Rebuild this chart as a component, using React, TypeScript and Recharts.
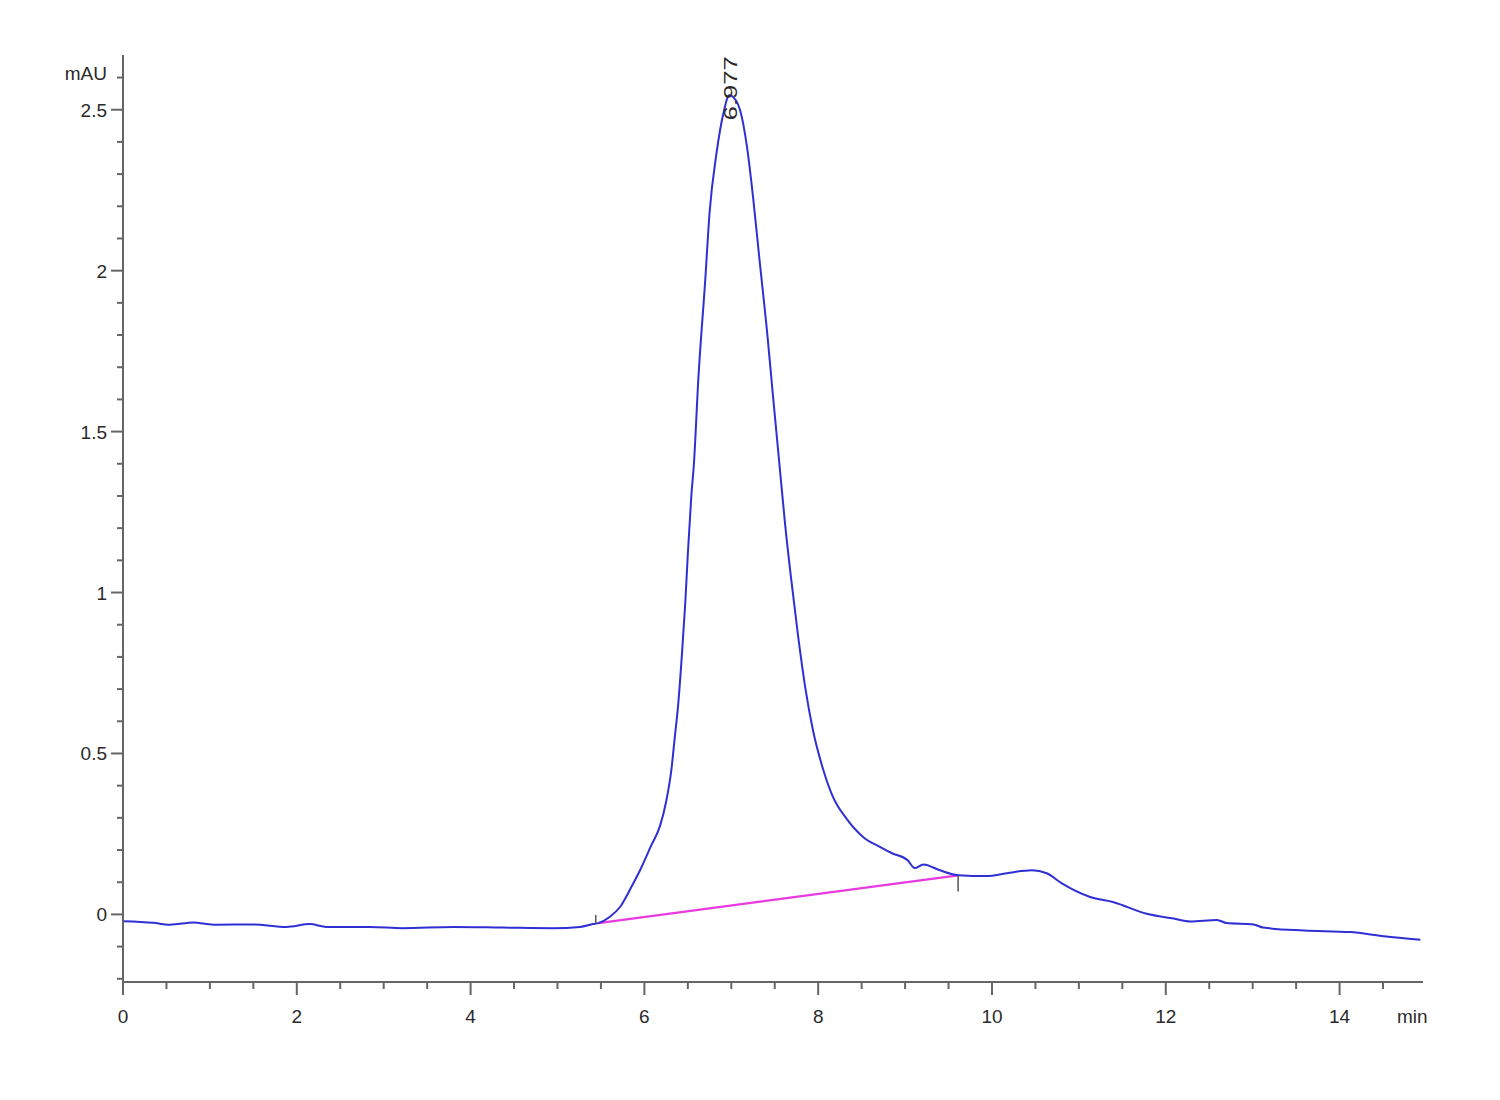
import React from 'react';
import { LineChart, Line, XAxis, YAxis, ReferenceDot, ReferenceLine, Label } from 'recharts';

const times = [
  0.0, 0.35, 0.54, 0.81, 1.04, 1.5, 1.88, 2.15, 2.34, 2.84, 3.22, 3.8, 4.37, 4.95, 5.26, 5.41, 5.47,
  5.6, 5.72, 5.85, 5.95, 6.08, 6.18, 6.25, 6.31, 6.35, 6.39, 6.43, 6.47, 6.5, 6.54, 6.57, 6.62, 6.7,
  6.75, 6.83, 6.91, 6.977, 7.05, 7.1, 7.18, 7.25, 7.33, 7.41, 7.48, 7.55, 7.62, 7.69, 7.77, 7.85,
  7.94, 8.06, 8.17, 8.33, 8.52, 8.71, 8.85, 9.03, 9.11, 9.21, 9.4, 9.61, 9.94, 10.17, 10.46, 10.63,
  10.8, 11.13, 11.4, 11.78, 12.09, 12.28, 12.59, 12.7, 13.01, 13.12, 13.59, 14.12, 14.51, 14.93,
];
const signal = [
  -0.021, -0.026, -0.032, -0.025, -0.032, -0.031, -0.039, -0.03, -0.039, -0.039, -0.043, -0.039,
  -0.041, -0.043, -0.039, -0.03, -0.027, -0.008, 0.023, 0.085, 0.137, 0.215, 0.275, 0.35, 0.448,
  0.551, 0.655, 0.8, 0.966, 1.12, 1.3, 1.4, 1.66, 1.97, 2.18, 2.365, 2.49, 2.545, 2.53, 2.5, 2.386,
  2.23, 2.02, 1.816, 1.61, 1.41, 1.21, 1.04, 0.862, 0.707, 0.572, 0.448, 0.365, 0.296, 0.24, 0.21,
  0.19, 0.168, 0.144, 0.155, 0.137, 0.122, 0.119, 0.128, 0.137, 0.128, 0.097, 0.054, 0.038, 0.002,
  -0.013, -0.022, -0.017, -0.027, -0.031, -0.041, -0.05, -0.055, -0.068, -0.079,
];

const baselineTimes = [5.47, 9.61];
const baselineValues = [-0.027, 0.121];

const peakTime = 6.977;
const peakValue = 2.545;
const peakLabel = '6.977';

const xTicks = [
  0, 0.5, 1, 1.5, 2, 2.5, 3, 3.5, 4, 4.5, 5, 5.5, 6, 6.5, 7, 7.5, 8, 8.5, 9, 9.5, 10, 10.5, 11,
  11.5, 12, 12.5, 13, 13.5, 14, 14.5,
];
const yTicks = [
  -0.2, -0.1, 0, 0.1, 0.2, 0.3, 0.4, 0.5, 0.6, 0.7, 0.8, 0.9, 1, 1.1, 1.2, 1.3, 1.4, 1.5, 1.6, 1.7,
  1.8, 1.9, 2, 2.1, 2.2, 2.3, 2.4, 2.5, 2.6,
];

const xUnit = 'min';
const yUnit = 'mAU';

const data = times.map((t, i) => ({ t, v: signal[i] }));
const baselineData = baselineTimes.map((t, i) => ({ t, v: baselineValues[i] }));

const FONT = '"Liberation Sans", Arial, sans-serif';
const AXIS = '#666';
const TEXT = '#2a2a2a';

const isMult = (v: number, m: number) => Math.abs(v / m - Math.round(v / m)) < 1e-6;

const XTick = (props: any) => {
  const { x, y, payload } = props;
  const v = payload.value;
  const major = isMult(v, 2);
  return (
    <g>
      <line x1={x} x2={x} y1={y} y2={y + (major ? 13 : 7)} stroke={AXIS} strokeWidth={2} />
      {major && (
        <text x={x} y={y + 41} textAnchor="middle" fontSize={19} fill={TEXT} fontFamily={FONT}>
          {String(v)}
        </text>
      )}
    </g>
  );
};

const YTick = (props: any) => {
  const { x, y, payload } = props;
  const v = payload.value;
  const major = isMult(v, 0.5);
  return (
    <g>
      <line x1={x - (major ? 12 : 6)} x2={x} y1={y} y2={y} stroke={AXIS} strokeWidth={2} />
      {major && (
        <text x={x - 16} y={y + 7} textAnchor="end" fontSize={19} fill={TEXT} fontFamily={FONT}>
          {String(v)}
        </text>
      )}
    </g>
  );
};

const YUnitLabel = (props: any) => {
  const vb = props.viewBox || {};
  return (
    <text x={vb.x + vb.width - 16} y={vb.y + 25} textAnchor="end" fontSize={19} fill={TEXT} fontFamily={FONT}>
      {yUnit}
    </text>
  );
};

const XUnitLabel = (props: any) => {
  const vb = props.viewBox || {};
  return (
    <text x={vb.x + vb.width - 26} y={vb.y + 41} textAnchor="start" fontSize={19} fill={TEXT} fontFamily={FONT}>
      {xUnit}
    </text>
  );
};

const PeakLabel = (props: any) => {
  const { cx, cy } = props;
  return (
    <text
      x={0}
      y={0}
      transform={`translate(${cx + 7.5},${cy + 25}) rotate(-90)`}
      fontSize={19}
      fill={TEXT}
      fontFamily={FONT}
      textLength={64}
      lengthAdjust="spacingAndGlyphs"
    >
      {peakLabel}
    </text>
  );
};

export default function App() {
  return (
    <div style={{ width: 1480, height: 1080 }}>
      <LineChart width={1480} height={1080} data={data} margin={{ top: 47, right: 65, left: 0, bottom: 0 }}>
        <XAxis
          dataKey="t"
          type="number"
          domain={[0, 14.96]}
          allowDataOverflow
          ticks={xTicks}
          interval={0}
          tick={<XTick />}
          tickLine={false}
          tickSize={0}
          tickMargin={0}
          height={106}
          axisLine={{ stroke: AXIS, strokeWidth: 2 }}
        >
          <Label content={<XUnitLabel />} />
        </XAxis>
        <YAxis
          type="number"
          domain={[-0.21, 2.67]}
          allowDataOverflow
          ticks={yTicks}
          interval={0}
          tick={<YTick />}
          tickLine={false}
          tickSize={0}
          tickMargin={0}
          width={115}
          axisLine={{ stroke: AXIS, strokeWidth: 2 }}
        >
          <Label content={<YUnitLabel />} />
        </YAxis>
        <Line
          data={baselineData}
          dataKey="v"
          type="linear"
          stroke="#e83ae0"
          strokeWidth={2.2}
          dot={false}
          isAnimationActive={false}
        />
        <Line
          dataKey="v"
          type="monotone"
          stroke="#2f2fd4"
          strokeWidth={2}
          dot={false}
          isAnimationActive={false}
        />
        <ReferenceLine
          segment={[
            { x: baselineTimes[1], y: baselineValues[1] },
            { x: baselineTimes[1], y: baselineValues[1] - 0.05 },
          ]}
          stroke="#555"
          strokeWidth={1.5}
        />
        <ReferenceLine
          segment={[
            { x: baselineTimes[0] - 0.03, y: baselineValues[0] },
            { x: baselineTimes[0] - 0.03, y: baselineValues[0] + 0.025 },
          ]}
          stroke="#555"
          strokeWidth={1.5}
        />
        <ReferenceDot x={peakTime} y={peakValue} r={1} shape={<PeakLabel />} />
      </LineChart>
    </div>
  );
}
